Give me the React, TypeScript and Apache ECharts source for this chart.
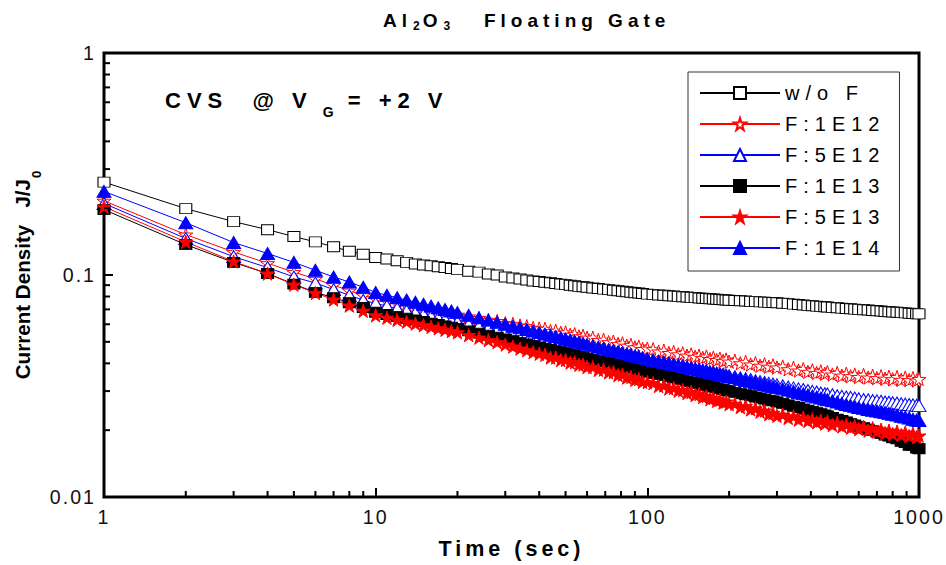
import React, { useEffect, useRef } from "react";
import * as echarts from "echarts";

// time axis (sec)
const TIME = [1,2,3,4,5,6,7,8,9,10,11,12,13,14,15,16,17,18,19,20,
  22,24,26,28,30,32,34,36,38,40,
  42,44,46,48,50,52,54,56,58,60,
  63,66,69,72,75,78,81,84,87,90,93,96,100,
  105,110,115,120,125,130,135,140,145,150,155,160,165,170,175,180,185,190,195,200,
  210,220,230,240,250,260,270,280,290,300,
  315,330,345,360,375,390,405,420,435,450,
  460,480,500,520,540,560,580,600,
  625,650,675,700,725,750,775,800,
  830,860,890,920,950,980,1000];

const W_O_F = [0.262,0.199,0.174,0.160,0.149,0.141,0.134,0.128,0.124,0.120,
  0.118,0.116,0.114,0.112,0.111,0.110,0.109,0.108,0.107,0.106,
  0.104,0.103,0.101,0.100,0.098,0.097,0.096,0.095,0.094,0.0935,
  0.0928,0.0922,0.0916,0.0910,0.0905,0.0899,0.0894,0.0889,0.0885,0.0880,
  0.0874,0.0869,0.0864,0.0859,0.0854,0.0849,0.0845,0.0840,0.0836,0.0832,0.0829,0.0825,0.0820,
  0.0816,0.0813,0.0810,0.0807,0.0804,0.0801,0.0798,0.0796,0.0793,0.0791,0.0788,0.0786,0.0784,0.0782,0.0780,0.0778,0.0776,0.0774,0.0772,0.0770,
  0.0768,0.0765,0.0763,0.0761,0.0759,0.0757,0.0755,0.0753,0.0752,0.0750,
  0.0746,0.0743,0.0739,0.0736,0.0733,0.0730,0.0727,0.0724,0.0722,0.0719,
  0.0718,0.0715,0.0712,0.0709,0.0707,0.0705,0.0702,0.0700,
  0.0697,0.0695,0.0692,0.0690,0.0688,0.0685,0.0683,0.0681,
  0.0679,0.0677,0.0675,0.0673,0.0671,0.0669,0.0668];

const F_1E12 = [0.216,0.152,0.127,0.113,0.103,0.096,0.090,0.085,0.081,0.078,
  0.0762,0.0747,0.0733,0.0720,0.0709,0.0698,0.0688,0.0679,0.0670,0.0662,
  0.0650,0.0640,0.0628,0.0620,0.0606,0.0602,0.0592,0.0588,0.0578,0.0574,
  0.0572,0.0559,0.0561,0.0549,0.0551,0.0538,0.0541,0.0529,0.0532,0.0522,
  0.0522,0.0509,0.0511,0.0498,0.0501,0.0489,0.0492,0.0480,0.0484,0.0472,0.0476,0.0464,0.0466,
  0.0463,0.0452,0.0456,0.0445,0.0450,0.0439,0.0444,0.0433,0.0439,0.0428,0.0433,0.0423,0.0429,0.0418,0.0424,0.0414,0.0420,0.0410,0.0416,0.0407,
  0.0411,0.0400,0.0406,0.0395,0.0401,0.0390,0.0396,0.0386,0.0392,0.0383,
  0.0387,0.0376,0.0382,0.0371,0.0377,0.0366,0.0372,0.0362,0.0368,0.0359,
  0.0365,0.0356,0.0362,0.0352,0.0359,0.0350,0.0356,0.0347,
  0.0355,0.0345,0.0352,0.0343,0.0350,0.0341,0.0348,0.0339,
  0.0347,0.0337,0.0345,0.0336,0.0343,0.0335,0.0340];

const F_5E12 = [0.210,0.146,0.121,0.108,0.098,0.092,0.086,0.081,0.077,0.0745,
  0.0724,0.0706,0.0690,0.0676,0.0663,0.0651,0.0641,0.0631,0.0622,0.0614,
  0.0600,0.0588,0.0577,0.0567,0.0558,0.0550,0.0543,0.0536,0.0530,0.0524,
  0.0518,0.0513,0.0508,0.0503,0.0499,0.0494,0.0490,0.0486,0.0482,0.0478,
  0.0472,0.0467,0.0461,0.0456,0.0451,0.0447,0.0442,0.0438,0.0434,0.0430,0.0426,0.0422,0.0417,
  0.0412,0.0408,0.0404,0.0400,0.0396,0.0392,0.0389,0.0385,0.0382,0.0379,0.0376,0.0373,0.0370,0.0367,0.0365,0.0362,0.0359,0.0357,0.0354,0.0352,
  0.0348,0.0344,0.0341,0.0338,0.0334,0.0331,0.0328,0.0325,0.0323,0.0320,
  0.0317,0.0313,0.0310,0.0307,0.0305,0.0302,0.0299,0.0297,0.0294,0.0292,
  0.0291,0.0289,0.0286,0.0284,0.0282,0.0281,0.0279,0.0277,
  0.0275,0.0274,0.0272,0.0271,0.0270,0.0268,0.0267,0.0266,
  0.0265,0.0263,0.0262,0.0261,0.0260,0.0259,0.0258];

const F_1E13 = [0.197,0.137,0.114,0.1015,0.091,0.0835,0.079,0.075,0.0714,0.068,
  0.0664,0.0651,0.0638,0.0627,0.0617,0.0607,0.0598,0.0590,0.0582,0.0575,
  0.0560,0.0547,0.0535,0.0525,0.0515,0.0506,0.0497,0.0489,0.0481,0.0474,
  0.0468,0.0462,0.0456,0.0451,0.0445,0.0440,0.0436,0.0431,0.0426,0.0422,
  0.0417,0.0411,0.0406,0.0402,0.0397,0.0393,0.0389,0.0384,0.0381,0.0377,0.0373,0.0370,0.0365,
  0.0360,0.0356,0.0352,0.0348,0.0344,0.0340,0.0337,0.0333,0.0330,0.0327,0.0324,0.0321,0.0318,0.0315,0.0313,0.0310,0.0307,0.0305,0.0302,0.0300,
  0.0296,0.0292,0.0289,0.0286,0.0282,0.0279,0.0276,0.0273,0.0271,0.0268,
  0.0264,0.0260,0.0256,0.0253,0.0249,0.0246,0.0243,0.0240,0.0237,0.0234,
  0.0232,0.0228,0.0224,0.0221,0.0218,0.0214,0.0211,0.0208,
  0.0205,0.0202,0.0199,0.0196,0.0193,0.0190,0.0188,0.0185,
  0.0183,0.0178,0.0176,0.0171,0.0171,0.0166,0.0165];

const F_5E13 = [0.203,0.141,0.115,0.1015,0.0905,0.083,0.0775,0.0728,0.0690,0.0658,
  0.0642,0.0628,0.0616,0.0604,0.0594,0.0584,0.0575,0.0567,0.0559,0.0552,
  0.0536,0.0522,0.0509,0.0498,0.0486,0.0476,0.0466,0.0458,0.0449,0.0442,
  0.0437,0.0425,0.0425,0.0414,0.0414,0.0403,0.0405,0.0394,0.0395,0.0385,
  0.0385,0.0374,0.0375,0.0364,0.0365,0.0354,0.0356,0.0345,0.0347,0.0337,0.0340,0.0330,0.0329,
  0.0326,0.0316,0.0318,0.0308,0.0310,0.0301,0.0303,0.0294,0.0297,0.0288,0.0291,0.0282,0.0285,0.0276,0.0279,0.0271,0.0274,0.0266,0.0269,0.0262,
  0.0263,0.0254,0.0257,0.0248,0.0251,0.0242,0.0245,0.0236,0.0239,0.0232,
  0.0235,0.0227,0.0231,0.0223,0.0228,0.0220,0.0224,0.0217,0.0221,0.0214,
  0.0219,0.0211,0.0216,0.0208,0.0212,0.0205,0.0209,0.0202,
  0.0207,0.0199,0.0204,0.0197,0.0201,0.0194,0.0199,0.0192,
  0.0197,0.0190,0.0195,0.0188,0.0193,0.0186,0.0189];

const F_1E14 = [0.238,0.172,0.140,0.125,0.114,0.105,0.098,0.093,0.088,0.0834,
  0.0811,0.0790,0.0771,0.0754,0.0738,0.0724,0.0711,0.0699,0.0688,0.0677,
  0.0658,0.0641,0.0626,0.0612,0.0600,0.0588,0.0578,0.0568,0.0559,0.0550,
  0.0542,0.0535,0.0528,0.0522,0.0515,0.0509,0.0503,0.0498,0.0492,0.0487,
  0.0480,0.0474,0.0468,0.0462,0.0457,0.0452,0.0446,0.0442,0.0437,0.0432,0.0428,0.0424,0.0418,
  0.0413,0.0408,0.0404,0.0400,0.0395,0.0391,0.0388,0.0384,0.0380,0.0377,0.0374,0.0371,0.0367,0.0364,0.0361,0.0359,0.0356,0.0353,0.0351,0.0348,
  0.0344,0.0339,0.0335,0.0331,0.0328,0.0324,0.0321,0.0317,0.0314,0.0311,
  0.0307,0.0303,0.0299,0.0295,0.0292,0.0288,0.0285,0.0282,0.0279,0.0276,
  0.0274,0.0271,0.0268,0.0264,0.0261,0.0258,0.0256,0.0253,
  0.0251,0.0248,0.0246,0.0244,0.0242,0.0240,0.0238,0.0236,
  0.0234,0.0231,0.0229,0.0227,0.0224,0.0222,0.0221];

const NAMES = ["w/o F", "F:1E12", "F:5E12", "F:1E13", "F:5E13", "F:1E14"];
const X_MINOR = [2,3,4,5,6,7,8,9,20,30,40,50,60,70,80,90,200,300,400,500,600,700,800,900];
const Y_MINOR = [0.02,0.03,0.04,0.05,0.06,0.07,0.08,0.09,0.2,0.3,0.4,0.5,0.6,0.7,0.8,0.9];

const FONT = "'Liberation Sans', Arial, sans-serif";
const STAR = "path://M50,2 L61.8,38.2 L99.5,38.2 L69,60.5 L80.6,96.6 L50,74.3 L19.4,96.6 L31,60.5 L0.5,38.2 L38.2,38.2 Z";

function lineSeries(name: string, values: number[], symbol: string, size: any, fill: string, stroke: string, lineColor: string) {
  return {
    type: "line",
    name,
    data: TIME.map((t, i) => [t, values[i]]),
    symbol,
    symbolSize: size,
    symbolKeepAspect: true,
    showSymbol: true,
    lineStyle: { color: lineColor, width: 1 },
    itemStyle: { color: fill, borderColor: stroke, borderWidth: 1 },
    emphasis: { disabled: true },
    silent: true,
  };
}

function tickSeries(data: number[][], dir: "x" | "y") {
  return {
    type: "custom",
    silent: true,
    clip: false,
    z: 10,
    data,
    renderItem: (_p: any, api: any) => {
      const p = api.coord([api.value(0), api.value(1)]);
      const len = 6;
      const shape = dir === "x"
        ? { x1: p[0], y1: p[1], x2: p[0], y2: p[1] - len }
        : { x1: p[0], y1: p[1], x2: p[0] + len, y2: p[1] };
      return { type: "line", shape, style: { stroke: "#000", lineWidth: 2 } };
    },
  };
}

export default function App() {
  const ref = useRef<HTMLDivElement>(null);
  useEffect(() => {
    if (!ref.current) return;
    const chart = echarts.init(ref.current, undefined, { renderer: "svg" });
    chart.setOption({
      animation: false,
      backgroundColor: "#fff",
      grid: {
        left: 104, right: 27, top: 53, bottom: 68,
        show: true, borderColor: "#000", borderWidth: 3, backgroundColor: "transparent",
        containLabel: false, outerBoundsMode: "none",
      },
      legend: {
        data: NAMES,
        orient: "vertical",
        left: 688,
        top: 72,
        itemWidth: 80,
        itemHeight: 15,
        itemGap: 11,
        padding: [11, 50, 13, 11],
        backgroundColor: "#fff",
        borderColor: "#333",
        borderWidth: 1,
        selectedMode: false,
        textStyle: { fontSize: 20, color: "#000", fontFamily: FONT, lineHeight: 20 },
      },
      xAxis: {
        type: "log",
        logBase: 10,
        min: 1,
        max: 1000,
        name: "Time (sec)",
        nameLocation: "middle",
        nameGap: 41,
        nameTextStyle: { fontSize: 21.5, fontWeight: "bold", color: "#000", fontFamily: FONT },
        axisLine: { show: false },
        axisTick: { show: true, inside: true, length: 9, lineStyle: { color: "#000", width: 2 } },
        axisLabel: { fontSize: 19.6, color: "#111", fontFamily: FONT, margin: 10, formatter: (v: number) => String(v) },
        splitLine: { show: false },
      },
      yAxis: {
        type: "log",
        logBase: 10,
        min: 0.01,
        max: 1,
        name: "{n|Current Density   J/J}{s|0}",
        nameLocation: "middle",
        nameRotate: 90,
        nameGap: 70,
        nameTextStyle: {
          rich: {
            n: { fontSize: 20.6, fontWeight: "bold", color: "#000", fontFamily: FONT, lineHeight: 24 },
            s: { fontSize: 13, fontWeight: "bold", color: "#000", fontFamily: FONT, lineHeight: 24, padding: [28, 0, 0, 1] },
          },
        },
        axisLine: { show: false },
        axisTick: { show: true, inside: true, length: 9, lineStyle: { color: "#000", width: 2 } },
        axisLabel: { fontSize: 19.6, color: "#111", fontFamily: FONT, margin: 8, formatter: (v: number) => String(v) },
        splitLine: { show: false },
      },
      graphic: [
        {
          type: "text",
          x: 383,
          y: 20,
          silent: true,
          style: {
            text: "{t2|Al}{s|2}{t1|O}{s|3}{t|   Floating Gate}",
            align: "left",
            verticalAlign: "middle",
            rich: {
              t2: { fontSize: 19, fontWeight: "bold", fill: "#000", fontFamily: FONT, lineHeight: 22, padding: [0, 10, 0, 0] },
              t1: { fontSize: 19, fontWeight: "bold", fill: "#000", fontFamily: FONT, lineHeight: 22, padding: [0, 5, 0, 0] },
              t: { fontSize: 19, fontWeight: "bold", fill: "#000", fontFamily: FONT, lineHeight: 22 },
              s: { fontSize: 12, fontWeight: "bold", fill: "#000", fontFamily: FONT, lineHeight: 22, padding: [12, 3, 0, 1] },
            },
          },
        },
        {
          type: "text",
          x: 165,
          y: 100,
          silent: true,
          style: {
            text: "{c|CVS  @ V}{g|G}{d| = +2 V}",
            align: "left",
            verticalAlign: "middle",
            rich: {
              c: { fontSize: 22, fontWeight: "bold", fill: "#000", fontFamily: FONT, lineHeight: 26, padding: [0, 48, 0, 0] },
              d: { fontSize: 22, fontWeight: "bold", fill: "#000", fontFamily: FONT, lineHeight: 26 },
              g: { fontSize: 14, fontWeight: "bold", fill: "#000", fontFamily: FONT, lineHeight: 26, padding: [24, 2, 0, 10] },
            },
          },
        },
      ],
      series: [
        lineSeries(NAMES[0], W_O_F, "rect", [12, 10], "#fff", "#000", "#000"),
        lineSeries(NAMES[1], F_1E12, STAR, 14, "#fff", "#ff0000", "#ff0000"),
        lineSeries(NAMES[2], F_5E12, "triangle", [14, 12], "#fff", "#0000ff", "#0000ff"),
        lineSeries(NAMES[3], F_1E13, "rect", [12, 10], "#000", "#000", "#000"),
        lineSeries(NAMES[4], F_5E13, STAR, 14, "#ff0000", "#ff0000", "#ff0000"),
        lineSeries(NAMES[5], F_1E14, "triangle", [14, 12], "#0000ff", "#0000ff", "#0000ff"),
        tickSeries(X_MINOR.map((t) => [t, 0.01]), "x"),
        tickSeries(Y_MINOR.map((v) => [1, v]), "y"),
      ],
    });
    return () => chart.dispose();
  }, []);
  const css = `
    body { margin: 0; }
    #chart-box text[style*="19.6px"] { letter-spacing: 2px; }
    #chart-box text[style*="20px"] { letter-spacing: 6px; }
    #chart-box text[style*="19px"] { letter-spacing: 5px; }
    #chart-box text[style*="22px"] { letter-spacing: 6px; }
    #chart-box text[style*="21.5px"] { letter-spacing: 4px; }
  `;
  return (
    <>
      <style>{css}</style>
      <div id="chart-box" ref={ref} style={{ width: 946, height: 565 }} />
    </>
  );
}
